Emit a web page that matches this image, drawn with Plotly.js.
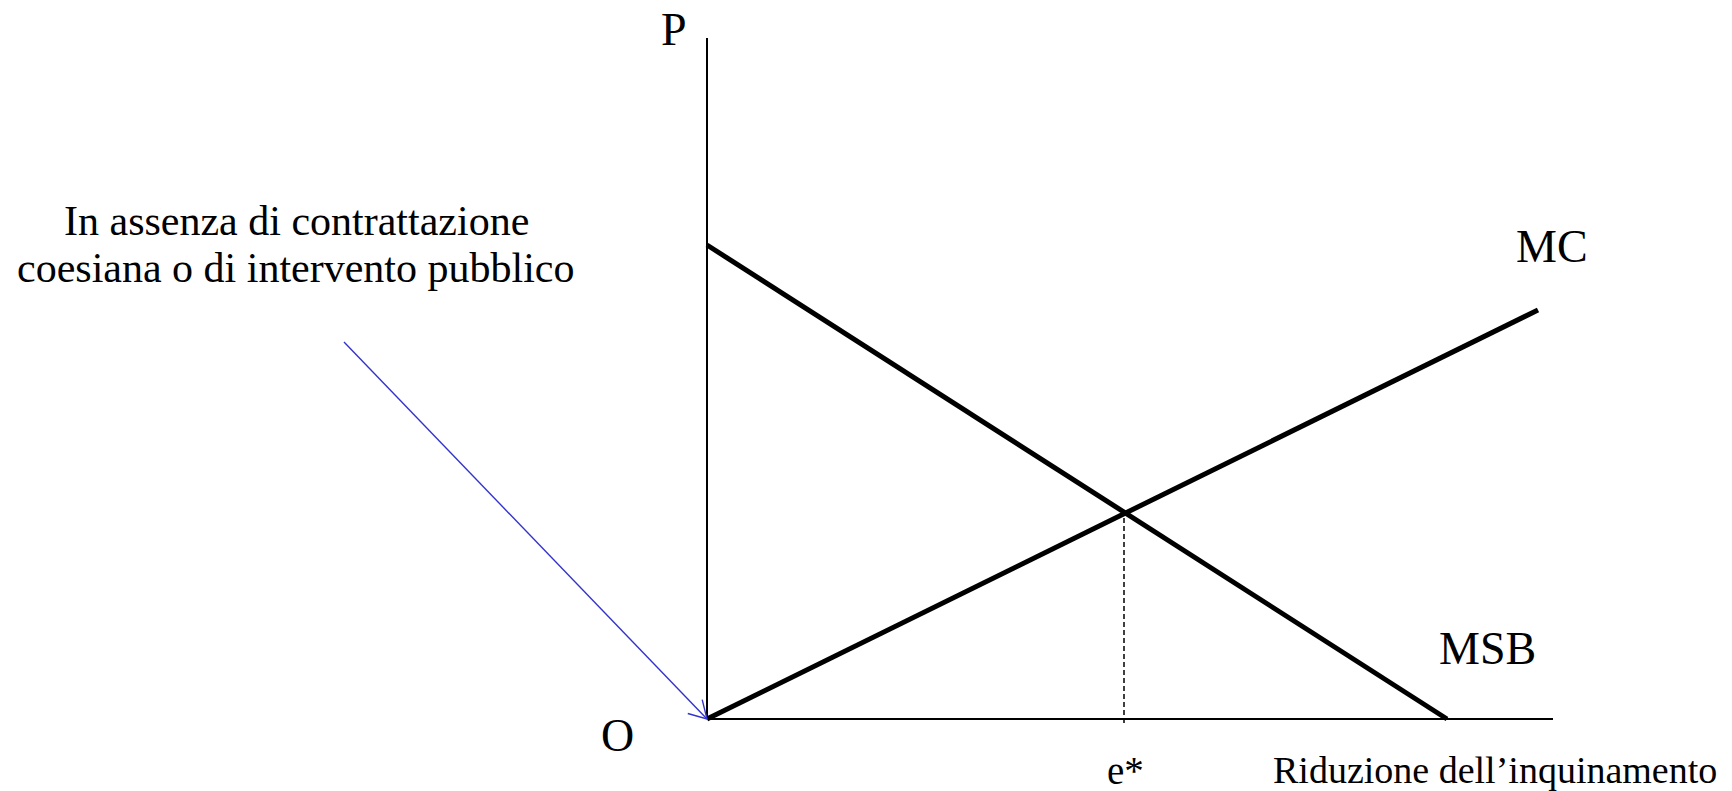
<!DOCTYPE html>
<html>
<head>
<meta charset="utf-8">
<script src="https://cdn.plot.ly/plotly-3.0.1.min.js"></script>
<style>
html,body{margin:0;padding:0;background:#fff;}
#chart{width:1732px;height:791px;}
</style>
</head>
<body>
<div id="chart"></div>
<script>
// Values (abstract units, origin O = (0,0))
const axisX = [0, 84.6];          // horizontal axis (Riduzione dell'inquinamento)
const axisY = [0, 68.1];          // vertical axis (P)
const mcX = [0, 83.1];
const mcY = [0, 40.9];
const msbX = [0, 74.0];
const msbY = [47.4, 0];
const eStarX = [41.7, 41.7];
const eStarY = [-0.4, 20.6];
const arrowFrom = [-36.3, 37.7];
const arrowTo = [0, 0];

const serif = "'Liberation Serif', 'Times New Roman', serif";
const blue = '#3333cc';

// arrowhead barbs derived from the arrow's own direction
const dx = arrowFrom[0] - arrowTo[0], dy = arrowFrom[1] - arrowTo[1];
const len = Math.hypot(dx, dy);
const ux = dx / len, uy = dy / len;
const headLen = 2.0, headAng = 30 * Math.PI / 180;
function rot(a) {
  return [arrowTo[0] + headLen * (ux * Math.cos(a) - uy * Math.sin(a)),
          arrowTo[1] + headLen * (ux * Math.sin(a) + uy * Math.cos(a))];
}
const b1 = rot(headAng), b2 = rot(-headAng);

const traces = [
  {x: axisX, y: [0, 0], mode: 'lines', line: {color: '#000', width: 2}},
  {x: [0, 0], y: axisY, mode: 'lines', line: {color: '#000', width: 2}},
  {x: eStarX, y: eStarY, mode: 'lines', line: {color: '#000', width: 1.5, dash: '5px,3px'}},
  {x: mcX, y: mcY, mode: 'lines', line: {color: '#000', width: 5}},
  {x: msbX, y: msbY, mode: 'lines', line: {color: '#000', width: 5}},
  {x: [arrowFrom[0], arrowTo[0]], y: [arrowFrom[1], arrowTo[1]], mode: 'lines', line: {color: blue, width: 1.4}},
  {x: [b1[0], arrowTo[0], b2[0]], y: [b1[1], arrowTo[1], b2[1]], mode: 'lines', line: {color: blue, width: 1.4}}
];

function lab(text, x, y, size, xanchor) {
  return {text: text, x: x, y: y, xref: 'x', yref: 'y', showarrow: false,
    xanchor: xanchor || 'center', yanchor: 'middle',
    font: {family: serif, size: size, color: '#000'}};
}

const annotations = [
  lab('P', -3.3, 69.0, 46),
  lab('MC', 84.5, 47.3, 46),
  lab('MSB', 78.0, 7.1, 46),
  lab('O', -9.0, -1.6, 46),
  lab('e*', 41.8, -5.1, 39),
  lab("Riduzione dell\u2019inquinamento", 78.75, -5.1, 38),
  lab('In assenza di contrattazione', -41.1, 49.8, 42),
  lab('coesiana o di intervento pubblico', -41.1, 45.1, 42)
];

const layout = {
  width: 1732, height: 791,
  margin: {l: 0, r: 0, t: 0, b: 0, pad: 0},
  paper_bgcolor: '#fff', plot_bgcolor: '#fff',
  showlegend: false,
  hovermode: false,
  xaxis: {range: [-70.7, 102.5], visible: false, showgrid: false, zeroline: false, fixedrange: true},
  yaxis: {range: [-7.2, 71.9], visible: false, showgrid: false, zeroline: false, fixedrange: true},
  annotations: annotations
};

Plotly.newPlot('chart', traces, layout, {staticPlot: true, displayModeBar: false});
</script>
</body>
</html>
